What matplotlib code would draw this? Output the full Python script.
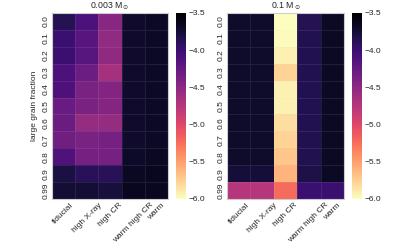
import numpy as np
import matplotlib
matplotlib.use("Agg")
import matplotlib.pyplot as plt
import seaborn as sns

fractions = ["0.0", "0.1", "0.2", "0.3", "0.4", "0.5", "0.6", "0.7", "0.8", "0.9", "0.99"]
models = ["fiducial", "high X-ray", "high CR", "warm high CR", "warm"]

# log abundance, 0.003 Msun disk (rows: large grain fraction, cols: model)
vals_003 = np.array([
    [-3.87, -4.10, -4.47, -3.71, -3.68],
    [-4.00, -4.18, -4.53, -3.71, -3.68],
    [-4.00, -4.17, -4.52, -3.71, -3.68],
    [-4.10, -4.30, -4.65, -3.71, -3.68],
    [-4.11, -4.37, -4.43, -3.71, -3.68],
    [-4.28, -4.38, -4.45, -3.71, -3.68],
    [-4.29, -4.55, -4.55, -3.71, -3.68],
    [-4.33, -4.37, -4.36, -3.71, -3.68],
    [-4.12, -4.36, -4.36, -3.69, -3.66],
    [-3.80, -3.90, -3.90, -3.66, -3.65],
    [-3.75, -3.75, -3.78, -3.65, -3.65],
])

# log abundance, 0.1 Msun disk
vals_01 = np.array([
    [-3.70, -3.70, -6.00, -3.87, -3.67],
    [-3.70, -3.70, -5.99, -3.86, -3.67],
    [-3.70, -3.70, -5.93, -3.86, -3.67],
    [-3.70, -3.70, -5.77, -3.86, -3.67],
    [-3.70, -3.70, -5.93, -3.86, -3.67],
    [-3.70, -3.70, -5.93, -3.86, -3.67],
    [-3.70, -3.70, -5.83, -3.86, -3.67],
    [-3.70, -3.70, -5.77, -3.85, -3.67],
    [-3.70, -3.70, -5.70, -3.85, -3.67],
    [-3.76, -3.76, -5.60, -3.82, -3.67],
    [-4.75, -4.75, -5.22, -4.00, -4.00],
])

titles = [r"0.003 M$_\odot$", r"0.1 M$_\odot$"]
cbar_ticks = [-3.5, -4.0, -4.5, -5.0, -5.5, -6.0]

sns.set_theme(style="whitegrid")
plt.rcParams["font.family"] = ["Liberation Sans", "DejaVu Sans"]

fig = plt.figure(figsize=(4.15, 2.49), dpi=100)
W, H = 415.0, 249.0
def box(x0, y0, x1, y1):
    return [x0 / W, 1 - y1 / H, (x1 - x0) / W, (y1 - y0) / H]

ax_specs = [box(52, 13, 168, 199), box(227, 13, 344, 199)]
cb_specs = [box(176, 13, 186, 199), box(352, 13, 362, 199)]

for i, data in enumerate([vals_003, vals_01]):
    ax = fig.add_axes(ax_specs[i])
    cax = fig.add_axes(cb_specs[i])
    sns.heatmap(data, ax=ax, cbar_ax=cax, cmap="magma_r", vmin=-6, vmax=-3.5,
                xticklabels=models, yticklabels=fractions,
                linewidths=0.4, linecolor=(0.85, 0.85, 0.9, 0.1))
    ax.set_title(titles[i], fontsize=6.3, pad=3)
    ax.tick_params(axis="both", which="both", length=0, pad=2, labelsize=6, labelcolor="0.15")
    plt.setp(ax.get_xticklabels(), rotation=45, ha="center")
    plt.setp(ax.get_yticklabels(), rotation=90, va="center")
    for s in ax.spines.values():
        s.set_visible(True)
        s.set_color("0.8")
        s.set_linewidth(0.8)
    if i == 0:
        ax.set_ylabel("large grain fraction", fontsize=6, labelpad=3, color="0.15")
    cax.set_yticks(cbar_ticks)
    cax.tick_params(length=0, pad=2, labelsize=6, labelcolor="0.15")
    cax.yaxis.set_ticklabels([f"{t:.1f}".replace("-", "\u2212") for t in cbar_ticks])
    for s in cax.spines.values():
        s.set_visible(False)

fig.savefig("out.png", dpi=100)
